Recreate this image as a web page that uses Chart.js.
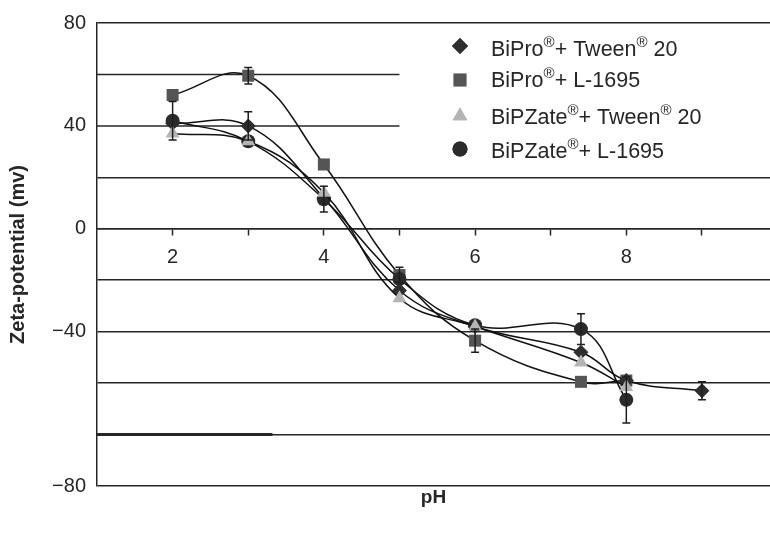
<!DOCTYPE html>
<html>
<head>
<meta charset="utf-8">
<script src="https://cdn.jsdelivr.net/npm/chart.js@4.4.1/dist/chart.umd.min.js"></script>
<style>
  html, body { margin: 0; padding: 0; background: #fff; }
  #wrap { width: 770px; height: 536px; }
</style>
</head>
<body>
<div id="wrap"><canvas id="myChart" width="770" height="536"></canvas></div>
<script>
// pH values for each series
const phTween = [2, 3, 4, 5, 6, 7.4, 8, 9];
const phL1695 = [2, 3, 4, 5, 6, 7.4, 8];

// zeta potential (mV)
const biproTween = [41, 40, 12, -24, -38, -48, -59, -63];
const biproL1695 = [52, 59.5, 25, -18, -43.5, -59.5, -59];
const bipzateTween = [37, 34, 14, -27, -38, -52, -61.5];
const bipzateL1695 = [42, 34, 11.5, -19.5, -37.5, -39, -66.5];

// error bar half-widths (0 = none visible)
const biproTweenErr = [0, 5.5, 0, 0, 0, 0, 0, 3.5];
const biproL1695Err = [0, 3.2, 0, 3, 4.5, 0, 0];
const bipzateTweenErr = [0, 0, 0, 0, 0, 0, 0];
const bipzateL1695Err = [7.5, 0, 5, 0, 0, 6, 9];

const legendLabels = [
  [['BiPro', 0], ['®', 1], ['+ Tween', 0], ['®', 1], [' 20', 0]],
  [['BiPro', 0], ['®', 1], ['+ L-1695', 0]],
  [['BiPZate', 0], ['®', 1], ['+ Tween', 0], ['®', 1], [' 20', 0]],
  [['BiPZate', 0], ['®', 1], ['+ L-1695', 0]]
];

const yTickLabels = { '80': '80', '40': '40', '0': '0', '-40': '\u221240', '-100': '\u221280' };
const xTickLabels = ['2', '4', '6', '8'];

const FONT = "'Liberation Sans', Arial, Helvetica, sans-serif";
const INK = '#262626';

function pts(xs, ys) {
  return xs.map((x, i) => ({ x: x, y: ys[i] }));
}

const series = [
  { label: 'BiPro + Tween 20', x: phTween, y: biproTween, err: biproTweenErr, style: 'rectRot', r: 7.5, color: '#2e2e2e', order: 2 },
  { label: 'BiPro + L-1695', x: phL1695, y: biproL1695, err: biproL1695Err, style: 'rect', r: 8.5, color: '#555555', order: 3 },
  { label: 'BiPZate + Tween 20', x: phL1695, y: bipzateTween, err: bipzateTweenErr, style: 'triangle', r: 8, color: '#b4b4b4', order: 0 },
  { label: 'BiPZate + L-1695', x: phL1695, y: bipzateL1695, err: bipzateL1695Err, style: 'circle', r: 7, color: '#2b2b2b', order: 1 }
];

const extras = {
  id: 'extras',
  beforeDatasetsDraw(chart) {
    const ctx = chart.ctx;
    const xs = chart.scales.x, ys = chart.scales.y;
    const area = chart.chartArea;
    ctx.save();
    ctx.strokeStyle = INK;
    ctx.lineWidth = 1.5;
    // short grid lines at 60 and 40 (cut by the legend)
    [60, 40].forEach(v => {
      const y = ys.getPixelForValue(v);
      ctx.beginPath();
      ctx.moveTo(area.left, y);
      ctx.lineTo(xs.getPixelForValue(5), y);
      ctx.stroke();
    });
    // darker left piece of the -80 line
    ctx.lineWidth = 3;
    const y80 = ys.getPixelForValue(-80);
    ctx.beginPath();
    ctx.moveTo(area.left, y80);
    ctx.lineTo(xs.getPixelForValue(3.32), y80);
    ctx.stroke();
    ctx.restore();
  },
  afterDatasetsDraw(chart) {
    const ctx = chart.ctx;
    const xs = chart.scales.x, ys = chart.scales.y;
    ctx.save();
    ctx.strokeStyle = '#1e1e1e';
    ctx.lineWidth = 1.5;
    series.forEach(s => {
      s.err.forEach((e, i) => {
        if (!e) return;
        const px = xs.getPixelForValue(s.x[i]);
        const top = ys.getPixelForValue(s.y[i] + e);
        const bot = ys.getPixelForValue(s.y[i] - e);
        ctx.beginPath();
        ctx.moveTo(px, top); ctx.lineTo(px, bot);
        ctx.moveTo(px - 4, top); ctx.lineTo(px + 4, top);
        ctx.moveTo(px - 4, bot); ctx.lineTo(px + 4, bot);
        ctx.stroke();
      });
    });
    ctx.restore();
  },
  afterDraw(chart) {
    const ctx = chart.ctx;
    const area = chart.chartArea;
    ctx.save();
    // legend
    const markX = 460, textX = 491;
    const rowY = [46, 80, 116, 149];
    const baseY = [56, 87, 124, 158];
    series.forEach((s, i) => {
      ctx.fillStyle = s.color;
      ctx.strokeStyle = s.color;
      Chart.helpers.drawPoint(ctx, { pointStyle: s.style, radius: s.r + 0.5, rotation: 0, borderWidth: 0 }, markX, rowY[i]);
      ctx.fill();
      let x = textX;
      ctx.fillStyle = INK;
      ctx.textBaseline = 'alphabetic';
      ctx.textAlign = 'left';
      legendLabels[i].forEach(([t, sup]) => {
        ctx.font = sup ? '15px ' + FONT : '21.5px ' + FONT;
        ctx.fillText(t, x, baseY[i] - (sup ? 9 : 0));
        x += ctx.measureText(t).width;
      });
    });
    // x axis title
    ctx.font = 'bold 19px ' + FONT;
    ctx.fillStyle = INK;
    ctx.textAlign = 'center';
    ctx.textBaseline = 'middle';
    ctx.fillText('pH', (area.left + area.right) / 2, 498);
    ctx.restore();
  }
};

const ctx = document.getElementById('myChart');

new Chart(ctx, {
  type: 'line',
  data: {
    datasets: series.map(s => ({
      label: s.label,
      data: pts(s.x, s.y),
      order: s.order,
      borderColor: '#111111',
      borderWidth: 1.5,
      tension: 0.4,
      fill: false,
      pointStyle: s.style,
      pointRadius: s.r,
      pointBackgroundColor: s.color,
      pointBorderColor: s.color,
      pointBorderWidth: 0
    }))
  },
  options: {
    responsive: false,
    animation: false,
    layout: { autoPadding: false, padding: { top: 22, right: 0, bottom: 50, left: 0 } },
    plugins: {
      legend: { display: false },
      tooltip: { enabled: false }
    },
    scales: {
      x: {
        type: 'linear',
        position: { y: 0 },
        min: 1,
        max: 9.9,
        ticks: {
          stepSize: 1,
          autoSkip: false,
          maxRotation: 0,
          padding: 11,
          color: INK,
          font: { family: FONT, size: 20 },
          callback: v => xTickLabels.includes(String(v)) ? String(v) : ''
        },
        grid: {
          drawOnChartArea: false,
          drawTicks: true,
          tickLength: 6,
          tickWidth: 1.5,
          tickColor: c => Number.isInteger(c.tick.value) && c.tick.value > 1 ? INK : 'rgba(0,0,0,0)'
        },
        border: { display: true, color: INK, width: 1.5 },
        afterFit: scale => { scale.paddingLeft = 0; scale.paddingRight = 0; }
      },
      y: {
        min: -100,
        max: 80,
        ticks: {
          stepSize: 20,
          padding: 11,
          color: INK,
          font: { family: FONT, size: 20 },
          callback: v => yTickLabels[String(v)] || ''
        },
        grid: {
          drawTicks: false,
          lineWidth: 1.5,
          color: c => (c.tick.value === 60 || c.tick.value === 40) ? 'rgba(0,0,0,0)' : INK
        },
        border: { display: true, color: INK, width: 1.5 },
        title: {
          display: true,
          text: 'Zeta-potential (mv)',
          color: INK,
          font: { family: FONT, size: 20, weight: 'bold' },
          padding: { top: 6, bottom: 0 }
        },
        afterFit: scale => { scale.width = 97; }
      }
    }
  },
  plugins: [extras]
});
</script>
</body>
</html>
